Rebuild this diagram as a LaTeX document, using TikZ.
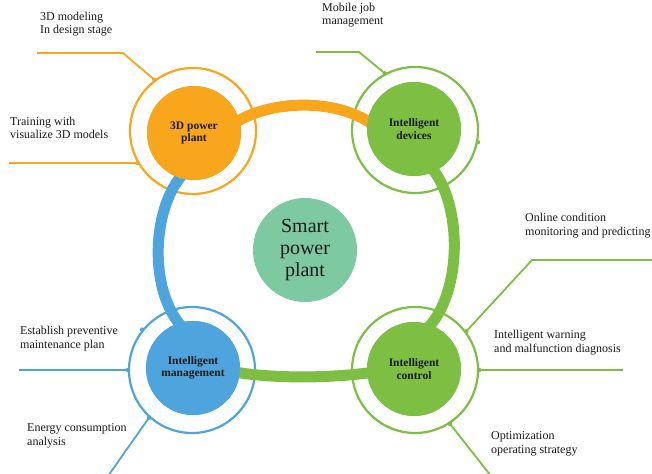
\documentclass[tikz,border=0pt]{standalone}
\usepackage{fontspec}
\setmainfont{Liberation Serif}
\definecolor{corange}{HTML}{F8A71C}
\definecolor{cgreen}{HTML}{7DBF42}
\definecolor{cblue}{HTML}{4EA5DE}
\definecolor{cteal}{HTML}{7DC9A1}
\definecolor{ctext}{HTML}{1A1A1A}
\begin{document}
\begin{tikzpicture}[x=1pt,y=-1pt,
  hub/.style={circle, minimum size=94pt, inner sep=0pt, align=center, text=ctext,
    font=\fontsize{11.5}{12.5}\selectfont\bfseries},
  ring/.style={circle, minimum size=126pt, inner sep=0pt, line width=2.2pt},
  band/.style={line width=11pt, shorten <=-6pt, shorten >=-6pt},
  lab/.style={anchor=base west, align=left, inner sep=0pt, text=ctext,
    font=\fontsize{12}{13.5}\selectfont},
  link/.style={line width=1.8pt},
  jdot/.style={circle, fill, inner sep=0pt, minimum size=4.5pt}]
\useasboundingbox (0,0) rectangle (652,473);

% outer rings
\node[ring, draw=corange] (r3d) at (193,131) {};
\node[ring, draw=cgreen] (rdev) at (415,130) {};
\node[ring, draw=cblue] (rmgt) at (192,370) {};
\node[ring, draw=cgreen] (rctl) at (415,370) {};

% inner hub positions
\coordinate (c3d) at (194,133);
\coordinate (cdev) at (414,129);
\coordinate (cmgt) at (193,368);
\coordinate (cctl) at (414,369);

% hubs (drawn below the bands, covered again afterwards)
\node[hub, fill=corange] (p3d) at (c3d) {};
\node[hub, fill=cgreen] (dev) at (cdev) {};
\node[hub, fill=cblue] (mgt) at (cmgt) {};
\node[hub, fill=cgreen] (ctl) at (cctl) {};

% bands
\draw[band, corange] (p3d.16) .. controls +(30,-20) and +(-32,-23) .. (dev.170);
\draw[band, cblue] (p3d.252) .. controls +(-28,30) and +(-30,-32) .. (mgt.108);
\draw[band, cgreen] (dev.-64) .. controls +(28,32) and +(32,-32) .. (ctl.69);
\draw[band, cgreen] (mgt.-6) .. controls +(35,6) and +(-35,5) .. (ctl.185);

% inner hubs on top
\node[hub, fill=corange] at (c3d) {3D power\\plant};
\node[hub, fill=cgreen] at (cdev) {Intelligent\\devices};
\node[hub, fill=cblue] at (cmgt) {Intelligent\\management};
\node[hub, fill=cgreen] at (cctl) {Intelligent\\control};

% center
\node[circle, fill=cteal, minimum size=104pt, inner sep=0pt, align=center, text=ctext,
  font=\fontsize{20}{22}\selectfont] (smart) at (305,250) {Smart\\power\\plant};

% labels
\node[lab] (l1) at (40,34) {3D modeling\\In design stage};
\node[lab] (l2) at (10,139) {Training with\\visualize 3D models};
\node[lab] (l3) at (322,25) {Mobile job\\management};
\node[lab] (l4) at (525,235) {Online condition\\monitoring and predicting};
\node[lab] (l5) at (494,352) {Intelligent warning\\and malfunction diagnosis};
\node[lab] (l6) at (491,453) {Optimization\\operating strategy};
\node[lab] (l7) at (20,348) {Establish preventive\\maintenance plan};
\node[lab] (l8) at (27,445) {Energy consumption\\analysis};

% link end coordinates
\coordinate (e1a) at (37,53);
\coordinate (e1b) at (123,53);
\coordinate (e2) at (9,0);
\coordinate (e3a) at (316,52);
\coordinate (e3b) at (359,52);
\coordinate (e4a) at (652,260);
\coordinate (e4b) at (532,260);
\coordinate (e5) at (623,0);
\coordinate (e6) at (491,476);
\coordinate (e7) at (19,0);
\coordinate (e8) at (108,476);

% links
\draw[link, corange] (e1a) -- (e1b) -- (r3d.127);
\draw[link, corange] (e2 |- r3d.210) -- (r3d.210);
\draw[link, cgreen] (e3a) -- (e3b) -- (rdev.118);
\draw[link, cgreen] (e4a) -- (e4b) -- (rctl.37);
\draw[link, cgreen] (rctl.0) -- (e5 |- rctl.0);
\draw[link, cgreen] (rctl.-57) -- (e6);
\draw[link, cblue] (e7 |- rmgt.180) -- (rmgt.180);
\draw[link, cblue] (rmgt.228) -- (e8);

% junction dots
\node[jdot, corange] at (r3d.127) {};
\node[jdot, corange] at (r3d.210) {};
\node[jdot, cgreen] at (rdev.118) {};
\node[jdot, cgreen] at (rdev.-11) {};
\node[jdot, cgreen] at (rctl.37) {};
\node[jdot, cgreen] at (rctl.0) {};
\node[jdot, cgreen] at (rctl.-57) {};
\node[jdot, cblue] at (rmgt.180) {};
\node[jdot, cblue] at (rmgt.141) {};
\node[jdot, cblue] at (rmgt.228) {};
\end{tikzpicture}
\end{document}
